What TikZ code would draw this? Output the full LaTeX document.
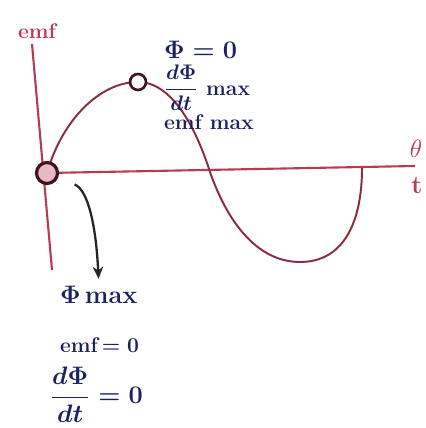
\documentclass[tikz,border=0pt]{standalone}
\usepackage{xcolor}
\usepackage{amsmath}
\usetikzlibrary{arrows.meta,positioning}
\definecolor{penred}{HTML}{B83A55}
\definecolor{penblue}{HTML}{1B2160}
\tikzset{
  axis/.style={
    draw=penred,
    line width=1.2pt
  },
  wave/.style={
    draw=penred!75!black,
    line width=1.1pt
  },
  marker/.style={
    circle,
    draw=penred!35!black,
    line width=1.8pt,
    fill=penred!35,
    minimum size=0.42cm,
    inner sep=0pt
  },
  peakmark/.style={
    circle,
    draw=penred!35!black,
    line width=1.5pt,
    fill=white,
    minimum size=0.32cm,
    inner sep=0pt
  },
  note/.style={
    text=penblue,
    font=\large\bfseries\boldmath,
    inner sep=1pt
  },
  bignote/.style={
    note,
    font=\Large\bfseries\boldmath
  },
  axlabel/.style={
    text=penred,
    font=\Large\bfseries
  },
  pointer/.style={-{Stealth[length=7pt,width=6pt]}, line width=1.3pt, draw=black!85}
}

\begin{document}
\begin{tikzpicture}[x=0.02cm,y=-0.02cm]
  \useasboundingbox[fill=white] (0,0) rectangle (425,428);

  \coordinate (o) at (47,173);
  \coordinate (ytop) at (32,44);
  \coordinate (ybot) at (52,270);
  \coordinate (xend) at (415,166);
  \coordinate (cross) at (210,172);
  \coordinate (trough) at (300,262);
  \coordinate (wend) at (362,168);

  % axes
  \draw[axis] (ytop) -- (ybot);
  \draw[axis] (o) -- (xend);
  \node[axlabel, font=\large\bfseries] (emf) at (37,31) {emf};
  \node[axlabel] (theta) at (416,149) {$\theta$};
  \node[axlabel] (time) at (417,186) {t};

  % one cycle
  \coordinate (peak) at (138,82);
  \draw[wave] (o) .. controls (62,120) and (100,82) .. (peak)
    .. controls (172,82) and (196,128) .. (cross)
    .. controls (226,218) and (255,262) .. (trough)
    .. controls (345,262) and (362,220) .. (wend);
  \node[peakmark] (top) at (peak) {};
  \node[marker] (origin) at (o) {};

  % notes at the peak
  \node[bignote, anchor=west] (phizero) at (162,50) {$\Phi = 0$};
  \node[note, below=1pt of phizero.south west, anchor=north west] (ratemax) {$\dfrac{d\Phi}{dt}$ max};
  \node[note, below=0pt of ratemax.south west, anchor=north west] (emfmax) {emf max};

  % notes at the origin
  \node[bignote, anchor=west] (phimax) at (58,295) {$\Phi$\,max};
  \node[note, anchor=west] (emfzero) at (58,345) {emf$\,=0$};
  \node[bignote, anchor=west] (ratezero) at (48,395) {$\dfrac{d\Phi}{dt}=0$};

  \draw[pointer, shorten <=17pt, shorten >=3pt] (origin.center) .. controls (88,190) and (96,225) .. (phimax.north);
\end{tikzpicture}
\end{document}
